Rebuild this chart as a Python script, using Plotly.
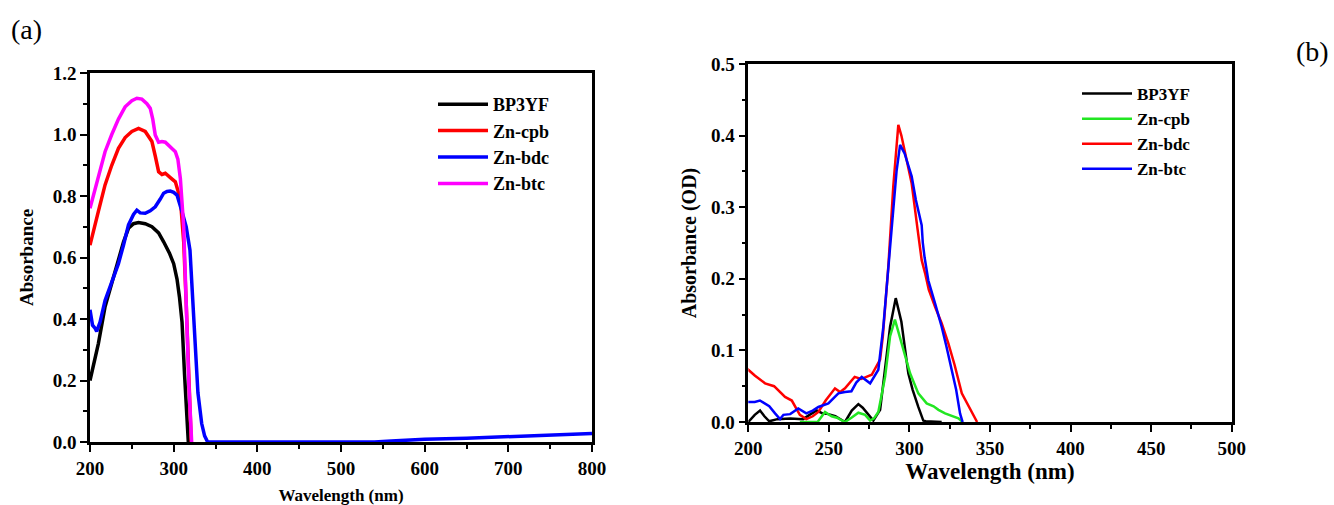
import plotly.graph_objects as go

# ---------------- Panel (a) data ----------------
a_bp3yf_x = [200, 205, 210, 218, 226, 234, 240, 246, 252, 258, 266, 274, 282, 288, 295, 300, 304, 307, 310, 313, 315, 317.5]
a_bp3yf_y = [0.20, 0.26, 0.32, 0.44, 0.52, 0.59, 0.65, 0.695, 0.71, 0.714, 0.71, 0.70, 0.68, 0.651, 0.614, 0.58, 0.53, 0.47, 0.39, 0.22, 0.10, 0.0]

a_cpb_x = [200, 205, 210, 218, 226, 234, 242, 250, 258, 266, 274, 278, 282, 286, 290, 296, 302, 308, 312, 315, 318, 321]
a_cpb_y = [0.64, 0.70, 0.75, 0.836, 0.90, 0.955, 0.99, 1.01, 1.02, 1.01, 0.977, 0.93, 0.879, 0.87, 0.874, 0.86, 0.846, 0.79, 0.65, 0.45, 0.20, 0.0]

a_bdc_x = [200, 203, 206, 208, 212, 218, 226, 234, 240, 246, 252, 256, 260, 266, 272, 278, 284, 288, 292, 296, 300, 304, 310, 315, 319.5, 322, 325.5, 329, 333.5, 337, 340.6,
           400, 500, 540, 560, 600, 650, 700, 750, 800]
a_bdc_y = [0.43, 0.38, 0.37, 0.36, 0.39, 0.46, 0.52, 0.58, 0.64, 0.706, 0.74, 0.754, 0.745, 0.744, 0.752, 0.765, 0.79, 0.809, 0.815, 0.816, 0.812, 0.803, 0.749, 0.70, 0.624, 0.50, 0.30, 0.16, 0.06, 0.02, 0.0,
           0.0, 0.0, 0.0, 0.003, 0.009, 0.012, 0.017, 0.021, 0.028]

a_btc_x = [200, 205, 210, 218, 226, 234, 242, 250, 256, 262, 268, 272, 275, 278, 282, 286, 290, 296, 302, 305, 308, 312, 315, 318, 321.5]
a_btc_y = [0.76, 0.81, 0.86, 0.944, 1.00, 1.05, 1.09, 1.11, 1.118, 1.115, 1.10, 1.085, 1.05, 0.998, 0.975, 0.977, 0.975, 0.96, 0.944, 0.92, 0.857, 0.70, 0.45, 0.20, 0.0]

# ---------------- Panel (b) data ----------------
b_bp3yf_x = [200, 204, 207.3, 210, 213, 218, 226, 234, 238, 242.5, 246, 249.7, 254, 258, 260, 264.2, 268.3, 271, 274.5, 277.6, 281.8, 284.9, 288, 291.5, 295, 299.3, 302, 305.5, 308.6, 310, 315, 320]
b_bp3yf_y = [0.0, 0.010, 0.016, 0.008, 0.001, 0.004, 0.005, 0.004, 0.010, 0.016, 0.012, 0.011, 0.008, 0.002, 0.0, 0.016, 0.025, 0.020, 0.010, 0.002, 0.017, 0.073, 0.133, 0.173, 0.140, 0.068, 0.045, 0.021, 0.002, 0.001, 0.0, 0.0]

b_cpb_x = [232, 237, 243, 247.6, 251.7, 255, 258, 260, 264, 268.3, 272.5, 275.6, 278, 280.7, 284.9, 288, 291, 295.2, 300.4, 305.5, 310.7, 315, 318, 322.1, 326, 330.4, 333]
b_cpb_y = [0.0, 0.0, 0.0, 0.014, 0.008, 0.006, 0.002, 0.0, 0.006, 0.013, 0.010, 0.002, 0.005, 0.014, 0.063, 0.120, 0.143, 0.110, 0.068, 0.040, 0.026, 0.022, 0.017, 0.012, 0.009, 0.005, 0.0]

b_bdc_x = [199, 204, 210.4, 216, 222.8, 227, 232, 236, 240, 243.5, 248, 253.8, 257, 260, 266, 270, 276.6, 281.8, 283.5, 284.9, 286.9, 290, 293.1, 295, 297.3, 301.4, 305, 307.6, 309.7, 312, 315.9, 320, 324.1, 328, 332.5, 336, 340.3, 342]
b_bdc_y = [0.075, 0.065, 0.054, 0.050, 0.035, 0.030, 0.010, 0.004, 0.008, 0.014, 0.030, 0.047, 0.042, 0.047, 0.063, 0.060, 0.066, 0.087, 0.120, 0.156, 0.217, 0.330, 0.415, 0.400, 0.375, 0.333, 0.270, 0.226, 0.208, 0.185, 0.161, 0.138, 0.110, 0.080, 0.040, 0.025, 0.007, 0.0]

b_btc_x = [199, 204, 207.2, 210.4, 213, 216.6, 219.7, 221.8, 226, 231, 236, 240, 243.5, 249.7, 255.9, 260, 264, 267, 270.4, 275.6, 280.7, 283.8, 286, 289, 292, 294.2, 297, 301.4, 304, 307.6, 308.3, 309.4, 311.7, 316, 320, 323, 326.3, 329, 331.4, 333]
b_btc_y = [0.028, 0.028, 0.030, 0.026, 0.022, 0.012, 0.004, 0.010, 0.011, 0.019, 0.012, 0.016, 0.021, 0.026, 0.040, 0.042, 0.043, 0.055, 0.063, 0.054, 0.073, 0.133, 0.190, 0.264, 0.350, 0.387, 0.375, 0.343, 0.310, 0.275, 0.250, 0.230, 0.198, 0.165, 0.133, 0.105, 0.073, 0.045, 0.012, 0.0]

legend_a = ["BP3YF", "Zn-cpb", "Zn-bdc", "Zn-btc"]
legend_b = ["BP3YF", "Zn-cpb", "Zn-bdc", "Zn-btc"]

a_xticks = [200, 300, 400, 500, 600, 700, 800]
a_yticks = [0.0, 0.2, 0.4, 0.6, 0.8, 1.0, 1.2]
b_xticks = [200, 250, 300, 350, 400, 450, 500]
b_yticks = [0.0, 0.1, 0.2, 0.3, 0.4, 0.5]

W, H = 1334, 505
FONT = "Liberation Serif"

# plot area (pixels) shared by both panels
L, R, T, B = 90, 1232, 64, 442

def px_x(p):
    return (p - L) / (R - L)

def px_y(p):
    return (B - p) / (B - T)

fig = go.Figure()

a_series = [(a_bp3yf_x, a_bp3yf_y, "black"), (a_cpb_x, a_cpb_y, "#ff0000"),
            (a_bdc_x, a_bdc_y, "#0000ff"), (a_btc_x, a_btc_y, "#ff00ff")]
for (xs, ys, c), name in zip(a_series, legend_a):
    fig.add_trace(go.Scatter(x=xs, y=ys, mode="lines", name=name,
                             line=dict(color=c, width=3.5), xaxis="x", yaxis="y",
                             legend="legend"))

b_series = [(b_bp3yf_x, b_bp3yf_y, "black"), (b_cpb_x, b_cpb_y, "#22e622"),
            (b_bdc_x, b_bdc_y, "#ff0000"), (b_btc_x, b_btc_y, "#0000ff")]
for (xs, ys, c), name in zip(b_series, legend_b):
    fig.add_trace(go.Scatter(x=xs, y=ys, mode="lines", name=name,
                             line=dict(color=c, width=2.5), xaxis="x2", yaxis="y2",
                             legend="legend2"))

axis_common = dict(showline=True, linecolor="black", linewidth=2.5, mirror=True,
                   showgrid=False, zeroline=False, ticks="outside", ticklen=7,
                   tickwidth=2, tickcolor="black", automargin=False)

def tf(size):
    return dict(size=size, family=FONT, weight="bold", color="black")

fig.update_layout(
    width=W, height=H,
    margin=dict(l=L, r=W - R, t=T, b=H - B, autoexpand=False),
    paper_bgcolor="white", plot_bgcolor="white",
    font=dict(family=FONT, color="black"),
    xaxis=dict(domain=[px_x(90), px_x(592)], range=[200, 800], anchor="y",
               tickvals=a_xticks, ticktext=[str(v) for v in a_xticks],
               tickfont=tf(19),
               minor=dict(ticks="outside", ticklen=4, tickwidth=2, tickcolor="black", dtick=50),
               title=dict(text="Wavelength (nm)", font=tf(17), standoff=15),
               **axis_common),
    yaxis=dict(domain=[px_y(442), px_y(73)], range=[0, 1.2], anchor="x",
               tickvals=a_yticks, ticktext=[f"{v:.1f}" for v in a_yticks],
               tickfont=tf(19),
               minor=dict(ticks="outside", ticklen=4, tickwidth=2, tickcolor="black", dtick=0.1),
               title=dict(text="Absorbance", font=tf(19), standoff=15),
               **axis_common),
    xaxis2=dict(domain=[px_x(748.3), px_x(1231.7)], range=[200, 500], anchor="y2",
                tickvals=b_xticks, ticktext=[str(v) for v in b_xticks],
                tickfont=tf(19),
                minor=dict(ticks="outside", ticklen=4, tickwidth=2, tickcolor="black", dtick=25),
                title=dict(text="Wavelength (nm)", font=tf(23), standoff=6),
                **axis_common),
    yaxis2=dict(domain=[px_y(422), px_y(64)], range=[0, 0.5], anchor="x2",
                tickvals=b_yticks, ticktext=[f"{v:.1f}" for v in b_yticks],
                tickfont=tf(19),
                minor=dict(ticks="outside", ticklen=4, tickwidth=2, tickcolor="black", dtick=0.05),
                title=dict(text="Absorbance (OD)", font=tf(20), standoff=10),
                **axis_common),
    legend=dict(x=px_x(433), y=px_y(86), xanchor="left", yanchor="top",
                bgcolor="rgba(0,0,0,0)", font=tf(18),
                tracegroupgap=0, itemwidth=50),
    legend2=dict(x=px_x(1077), y=px_y(76), xanchor="left", yanchor="top",
                 bgcolor="rgba(0,0,0,0)", font=tf(17),
                 tracegroupgap=0, itemwidth=50),
    annotations=[
        dict(text="(a)", x=px_x(9), y=px_y(30), xref="paper", yref="paper",
             xanchor="left", yanchor="middle", showarrow=False,
             font=dict(size=28, family=FONT, color="black")),
        dict(text="(b)", x=px_x(1294), y=px_y(52), xref="paper", yref="paper",
             xanchor="left", yanchor="middle", showarrow=False,
             font=dict(size=28, family=FONT, color="black")),
    ],
)

fig.write_html("out.html")
